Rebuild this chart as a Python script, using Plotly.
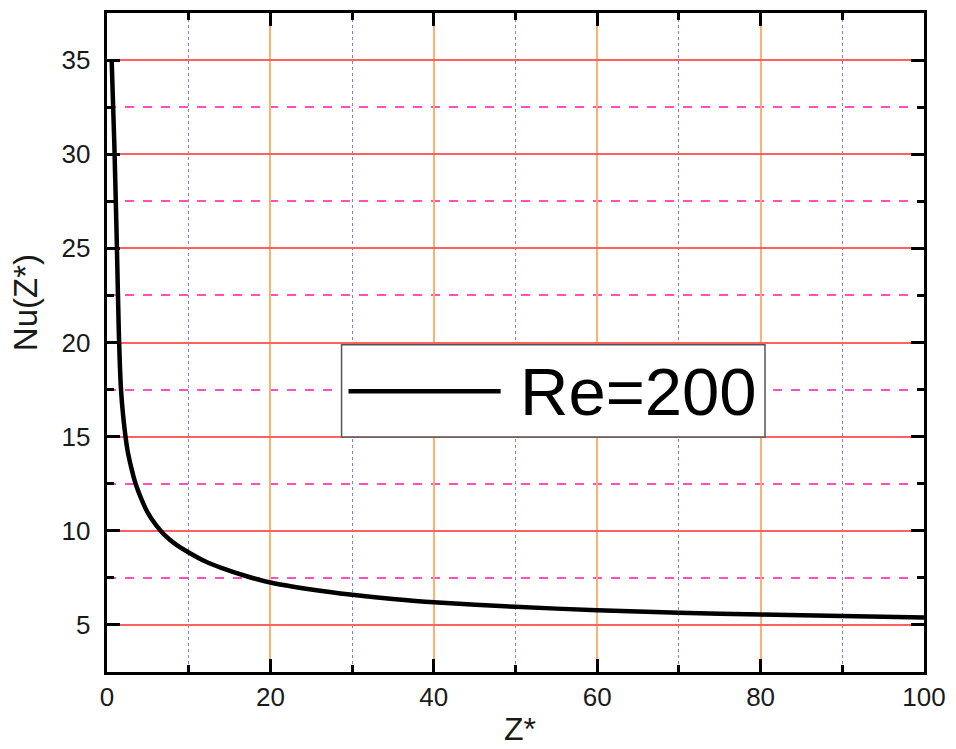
import plotly.graph_objects as go

# Data
z_star = [0.57, 0.9, 1.2, 1.45, 1.7, 2.0, 2.5, 3.0, 3.5, 4.2, 5.0, 6.0, 7.0, 8.5, 10.0,
          12.0, 14.0, 17.0, 20.0, 25.0, 30.0, 35.0, 40.0, 50.0, 60.0, 70.0, 80.0, 90.0, 100.0]
nu = [35.0, 30.5, 25.3, 20.5, 17.6, 16.0, 14.3, 13.3, 12.5, 11.7, 10.95, 10.3, 9.8, 9.25, 8.85,
      8.38, 8.03, 7.6, 7.25, 6.88, 6.6, 6.38, 6.2, 5.96, 5.78, 5.65, 5.55, 5.47, 5.4]
series_name = "Re=200"
x_title = "Z*"
y_title = "Nu(Z*)"
x_ticks = [0, 20, 40, 60, 80, 100]
y_ticks = [5, 10, 15, 20, 25, 30, 35]

fig = go.Figure()
fig.add_trace(go.Scatter(
    x=z_star, y=nu, mode="lines", name=series_name,
    line=dict(color="black", width=4.5, shape="spline", smoothing=0.6),
    showlegend=False,
))

font_family = "Liberation Sans, Arial, sans-serif"
txt_color = "#1a1a1a"
pad = "\u2004"

fig.update_layout(
    width=956, height=749,
    margin=dict(l=107, r=27, t=10, b=77),
    paper_bgcolor="white", plot_bgcolor="white",
    font=dict(family=font_family, color=txt_color),
    xaxis=dict(
        range=[0, 100], tickvals=x_ticks, ticktext=[str(v) for v in x_ticks],
        showline=True, linecolor="black", linewidth=2.5, mirror="allticks",
        ticks="inside", ticklen=13, tickwidth=2.5, tickcolor="black",
        showgrid=True, gridcolor="rgb(255,176,112)", gridwidth=2,
        minor=dict(dtick=10, tick0=0, ticks="inside", ticklen=7, tickwidth=2.5,
                   tickcolor="black", showgrid=True, gridcolor="rgb(130,130,220)",
                   gridwidth=1, griddash="dot"),
        zeroline=False,
        tickfont=dict(size=26, family=font_family, color=txt_color),
    ),
    yaxis=dict(
        range=[2.5, 37.5], tickvals=y_ticks, ticktext=[str(v) + pad for v in y_ticks],
        showline=True, linecolor="black", linewidth=2.5, mirror="allticks",
        ticks="inside", ticklen=13, tickwidth=2.5, tickcolor="black",
        showgrid=True, gridcolor="rgb(255,96,96)", gridwidth=1.5,
        minor=dict(dtick=2.5, tick0=0, ticks="inside", ticklen=7, tickwidth=2.5,
                   tickcolor="black", showgrid=True, gridcolor="rgb(255,80,190)",
                   gridwidth=1.5, griddash="dash"),
        zeroline=False,
        tickfont=dict(size=26, family=font_family, color=txt_color),
    ),
)

# Axis titles (placed as in the reference)
fig.add_annotation(xref="paper", yref="paper", x=0.506, y=-0.0862, text=x_title,
                   showarrow=False, xanchor="center", yanchor="middle",
                   font=dict(size=32, family=font_family, color=txt_color))
fig.add_annotation(xref="paper", yref="paper", x=-0.0998, y=0.5604, text=y_title,
                   showarrow=False, xanchor="center", yanchor="middle", textangle=-90,
                   font=dict(size=33, family=font_family, color=txt_color))

# Custom legend box (long line sample as in the reference)
fig.add_shape(type="rect", xref="paper", yref="paper",
              x0=0.2871, x1=0.8054, y0=0.3565, y1=0.4965,
              fillcolor="white", line=dict(color="#555555", width=1.5), layer="above")
fig.add_shape(type="line", xref="paper", yref="paper",
              x0=0.2956, x1=0.4818, y0=0.426, y1=0.426,
              line=dict(color="black", width=4.5), layer="above")
fig.add_annotation(xref="paper", yref="paper", x=0.6505, y=0.426,
                   text=series_name, showarrow=False,
                   xanchor="center", yanchor="middle",
                   font=dict(size=67, family=font_family, color="black"))

fig.write_html("out.html", config={"displayModeBar": False},
               post_script="document.body.style.margin='0';document.body.style.padding='0';")
